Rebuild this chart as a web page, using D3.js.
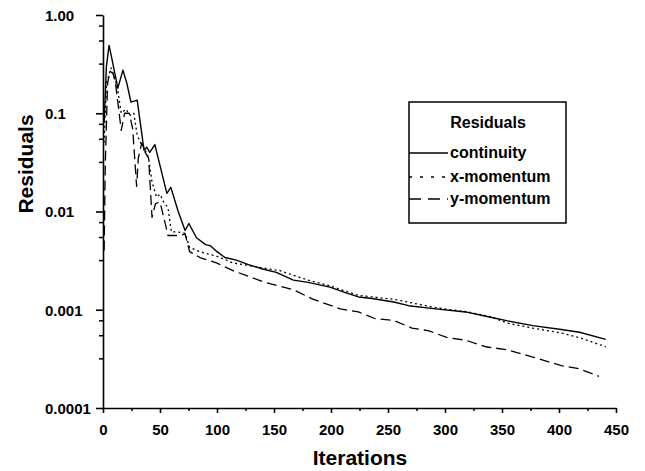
<!DOCTYPE html>
<html>
<head>
<script src="https://cdn.jsdelivr.net/npm/d3@7"></script>
<style>
  body { margin: 0; background: #fff; }
  text { font-family: "Liberation Sans", Arial, sans-serif; font-weight: bold; fill: #000; }
</style>
</head>
<body>
<script>
// residual histories
var continuityIter = [1, 3, 5.3, 8, 13, 17.5, 21, 24.5, 30, 36, 38.5, 41, 45.5, 56, 59.5, 66, 72, 75.3, 82, 90, 94, 100, 107, 117, 127, 140, 152, 167, 180, 199, 212, 224, 236, 255, 268, 292, 318, 340, 355, 377, 402, 418, 441];
var continuityVal  = [0.08, 0.3, 0.49, 0.35, 0.18, 0.275, 0.2, 0.13, 0.136, 0.042, 0.045, 0.04, 0.048, 0.0153, 0.0176, 0.01, 0.0064, 0.00755, 0.0054, 0.0046, 0.0045, 0.0039, 0.0034, 0.0032, 0.0029, 0.0026, 0.0024, 0.002, 0.0019, 0.0017, 0.0015, 0.00135, 0.0013, 0.0012, 0.0011, 0.00102, 0.00095, 0.00084, 0.00077, 0.00069, 0.00063, 0.00059, 0.0005];

var xMomIter = [1, 3, 7, 10, 13, 16, 20, 24, 27, 30, 33, 36, 40, 43, 47, 50, 54, 57, 60, 65, 72, 76, 85, 100, 114, 137, 155, 180, 199, 224, 236, 255, 270, 292, 308, 320, 340, 355, 377, 402, 418, 441];
var xMomVal  = [0.05, 0.2, 0.29, 0.24, 0.17, 0.1, 0.11, 0.095, 0.1, 0.06, 0.05, 0.045, 0.035, 0.02, 0.014, 0.015, 0.012, 0.011, 0.0062, 0.0062, 0.006, 0.0043, 0.0039, 0.0035, 0.003, 0.0027, 0.0025, 0.002, 0.00175, 0.0014, 0.00135, 0.00128, 0.00118, 0.00105, 0.00099, 0.00095, 0.00085, 0.00073, 0.00065, 0.00058, 0.00052, 0.00042];

var yMomIter = [1, 2, 4, 6, 9, 11, 13, 16, 19, 23, 26, 29.5, 31, 34, 37, 40, 43, 46, 50, 53, 57, 67, 72, 76, 85, 99.5, 114, 142, 167, 183, 208, 224, 239, 255, 271, 286, 302, 318, 336, 355, 377, 402, 418, 435];
var yMomVal  = [0.004, 0.03, 0.2, 0.27, 0.25, 0.2, 0.13, 0.067, 0.1, 0.1, 0.07, 0.018, 0.035, 0.05, 0.04, 0.035, 0.0087, 0.012, 0.0125, 0.009, 0.0057, 0.0057, 0.0059, 0.0039, 0.0034, 0.003, 0.0025, 0.0019, 0.0016, 0.0013, 0.00102, 0.00095, 0.00081, 0.00078, 0.00065, 0.00061, 0.00052, 0.00049, 0.00042, 0.00039, 0.00033, 0.00027, 0.00025, 0.00021];

var seriesNames = ["continuity", "x-momentum", "y-momentum"];
var xTicks = [0, 50, 100, 150, 200, 250, 300, 350, 400, 450];
var xMinorTicks = [25, 75, 125, 175, 225, 275, 325, 375, 425];
var yTicks = [1, 0.1, 0.01, 0.001, 0.0001];
var yTickLabels = ["1.00", "0.1", "0.01", "0.001", "0.0001"];
var yMinorFactors = [0.78, 0.55, 0.32];

var W = 645, H = 471;
var svg = d3.select("body").append("svg")
    .attr("width", W)
    .attr("height", H);
svg.append("rect").attr("width", W).attr("height", H).attr("fill", "#fff");

var x = d3.scaleLinear().domain([0, 450]).range([103, 616]);
var y = d3.scaleLog().domain([0.0001, 1]).range([408, 15]);

// minor ticks first so the main axis draws over them
var yMinor = [];
yTicks.slice(0, 4).forEach(function(t) {
    yMinorFactors.forEach(function(f) { yMinor.push(t * f); });
});

svg.append("g")
    .attr("transform", "translate(103,0)")
    .call(d3.axisLeft(y).tickValues(yMinor).tickSize(4).tickSizeOuter(0).tickFormat(""))
    .call(function(g) { g.select(".domain").remove(); })
    .selectAll("line").attr("stroke-width", 1.5);

svg.append("g")
    .attr("transform", "translate(0,408)")
    .call(d3.axisBottom(x).tickValues(xMinorTicks).tickSize(3).tickSizeOuter(0).tickFormat(""))
    .call(function(g) { g.select(".domain").remove(); })
    .selectAll("line").attr("stroke-width", 1.5);

var yAxis = svg.append("g")
    .attr("transform", "translate(103,0)")
    .call(d3.axisLeft(y).tickValues(yTicks).tickSize(7).tickSizeOuter(0)
        .tickFormat(function(d, i) { return yTickLabels[i]; }));
yAxis.select(".domain").attr("stroke-width", 1.6);
yAxis.selectAll("line").attr("stroke-width", 1.6);
yAxis.selectAll("text")
    .attr("x", -58)
    .attr("dy", "0.36em")
    .attr("text-anchor", "start")
    .style("font-size", "15px")
    .style("font-family", "'Liberation Sans', Arial, sans-serif")
    .style("font-weight", "bold");

var xAxis = svg.append("g")
    .attr("transform", "translate(0,408)")
    .call(d3.axisBottom(x).tickValues(xTicks).tickSize(5).tickSizeOuter(0).tickFormat(d3.format("d")));
xAxis.select(".domain").attr("stroke-width", 1.6);
xAxis.selectAll("line").attr("stroke-width", 1.6);
xAxis.selectAll("text")
    .attr("y", 16)
    .attr("dy", "0.71em")
    .style("font-size", "15px")
    .style("font-family", "'Liberation Sans', Arial, sans-serif")
    .style("font-weight", "bold");

// axis titles
svg.append("text")
    .attr("x", 360).attr("y", 465)
    .attr("text-anchor", "middle")
    .style("font-size", "21px")
    .text("Iterations");

svg.append("text")
    .attr("transform", "translate(33,164) rotate(-90)")
    .attr("text-anchor", "middle")
    .style("font-size", "21px")
    .text("Residuals");

// curves
var styles = [
    { dash: null, width: 1.4 },
    { dash: "2,3", width: 1.3 },
    { dash: "10,5", width: 1.3 }
];
var series = [
    d3.zip(continuityIter, continuityVal),
    d3.zip(xMomIter, xMomVal),
    d3.zip(yMomIter, yMomVal)
];

var line = d3.line()
    .x(function(d) { return x(d[0]); })
    .y(function(d) { return y(d[1]); });

// dashed under dotted under solid
[2, 1, 0].forEach(function(i) {
    svg.append("path")
        .attr("d", line(series[i]))
        .attr("fill", "none")
        .attr("stroke", "#000")
        .attr("stroke-width", styles[i].width)
        .attr("stroke-dasharray", styles[i].dash)
        .attr("stroke-linejoin", "round");
});

// legend
var lg = svg.append("g");
lg.append("rect")
    .attr("x", 409).attr("y", 102)
    .attr("width", 157).attr("height", 121)
    .attr("fill", "#fff")
    .attr("stroke", "#000")
    .attr("stroke-width", 1.5);
lg.append("text")
    .attr("x", 488).attr("y", 128)
    .attr("text-anchor", "middle")
    .style("font-size", "16px")
    .text("Residuals");

var rowY = [153, 177, 199];
seriesNames.forEach(function(name, i) {
    lg.append("line")
        .attr("x1", 409).attr("x2", 448)
        .attr("y1", rowY[i]).attr("y2", rowY[i])
        .attr("stroke", "#000")
        .attr("stroke-width", styles[i].width)
        .attr("stroke-dasharray", i === 1 ? "3,8" : (i === 2 ? "12,7" : null));
    lg.append("text")
        .attr("x", 450).attr("y", rowY[i] + 5)
        .style("font-size", "16px")
        .text(name);
});
</script>
</body>
</html>
